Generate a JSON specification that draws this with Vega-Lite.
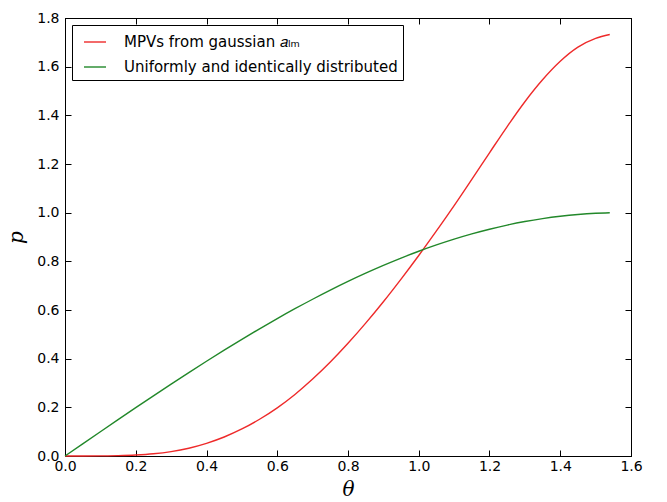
{
  "$schema": "https://vega.github.io/schema/vega-lite/v6.json",
  "width": 566,
  "height": 438,
  "autosize": {"type": "none"},
  "padding": {"left": 65, "top": 18, "right": 36, "bottom": 46},
  "background": "white",
  "config": {
    "view": {"stroke": "black", "strokeWidth": 1},
    "font": "DejaVu Sans",
    "axis": {
      "grid": false,
      "domainColor": "black",
      "domainWidth": 1,
      "tickColor": "black",
      "tickSize": -6,
      "tickWidth": 1,
      "labelColor": "black",
      "labelFont": "DejaVu Sans",
      "labelFontSize": 14,
      "labelFlush": false,
      "labelOverlap": false,
      "titleFont": "DejaVu Serif",
      "titleFontStyle": "italic",
      "titleFontWeight": "normal",
      "titleFontSize": 20,
      "titleColor": "black"
    }
  },
  "data": {
    "values": [
      {"theta": 0.0, "p": 0.0, "series": "MPVs from gaussian 𝑎ₗₘ"},
      {"theta": 0.05, "p": 0.0, "series": "MPVs from gaussian 𝑎ₗₘ"},
      {"theta": 0.1, "p": 0.0005, "series": "MPVs from gaussian 𝑎ₗₘ"},
      {"theta": 0.15, "p": 0.0015, "series": "MPVs from gaussian 𝑎ₗₘ"},
      {"theta": 0.2, "p": 0.004, "series": "MPVs from gaussian 𝑎ₗₘ"},
      {"theta": 0.25, "p": 0.009, "series": "MPVs from gaussian 𝑎ₗₘ"},
      {"theta": 0.3, "p": 0.018, "series": "MPVs from gaussian 𝑎ₗₘ"},
      {"theta": 0.35, "p": 0.032, "series": "MPVs from gaussian 𝑎ₗₘ"},
      {"theta": 0.4, "p": 0.052, "series": "MPVs from gaussian 𝑎ₗₘ"},
      {"theta": 0.45, "p": 0.078, "series": "MPVs from gaussian 𝑎ₗₘ"},
      {"theta": 0.5, "p": 0.111, "series": "MPVs from gaussian 𝑎ₗₘ"},
      {"theta": 0.55, "p": 0.151, "series": "MPVs from gaussian 𝑎ₗₘ"},
      {"theta": 0.6, "p": 0.198, "series": "MPVs from gaussian 𝑎ₗₘ"},
      {"theta": 0.65, "p": 0.253, "series": "MPVs from gaussian 𝑎ₗₘ"},
      {"theta": 0.7, "p": 0.316, "series": "MPVs from gaussian 𝑎ₗₘ"},
      {"theta": 0.75, "p": 0.386, "series": "MPVs from gaussian 𝑎ₗₘ"},
      {"theta": 0.8, "p": 0.463, "series": "MPVs from gaussian 𝑎ₗₘ"},
      {"theta": 0.85, "p": 0.546, "series": "MPVs from gaussian 𝑎ₗₘ"},
      {"theta": 0.9, "p": 0.634, "series": "MPVs from gaussian 𝑎ₗₘ"},
      {"theta": 0.95, "p": 0.727, "series": "MPVs from gaussian 𝑎ₗₘ"},
      {"theta": 1.0, "p": 0.824, "series": "MPVs from gaussian 𝑎ₗₘ"},
      {"theta": 1.05, "p": 0.925, "series": "MPVs from gaussian 𝑎ₗₘ"},
      {"theta": 1.1, "p": 1.029, "series": "MPVs from gaussian 𝑎ₗₘ"},
      {"theta": 1.15, "p": 1.137, "series": "MPVs from gaussian 𝑎ₗₘ"},
      {"theta": 1.2, "p": 1.246, "series": "MPVs from gaussian 𝑎ₗₘ"},
      {"theta": 1.25, "p": 1.354, "series": "MPVs from gaussian 𝑎ₗₘ"},
      {"theta": 1.3, "p": 1.456, "series": "MPVs from gaussian 𝑎ₗₘ"},
      {"theta": 1.35, "p": 1.546, "series": "MPVs from gaussian 𝑎ₗₘ"},
      {"theta": 1.4, "p": 1.622, "series": "MPVs from gaussian 𝑎ₗₘ"},
      {"theta": 1.45, "p": 1.68, "series": "MPVs from gaussian 𝑎ₗₘ"},
      {"theta": 1.5, "p": 1.716, "series": "MPVs from gaussian 𝑎ₗₘ"},
      {"theta": 1.54, "p": 1.732, "series": "MPVs from gaussian 𝑎ₗₘ"},
      {"theta": 0.0, "p": 0.0, "series": "Uniformly and identically distributed"},
      {"theta": 0.05, "p": 0.05, "series": "Uniformly and identically distributed"},
      {"theta": 0.1, "p": 0.0998, "series": "Uniformly and identically distributed"},
      {"theta": 0.15, "p": 0.1494, "series": "Uniformly and identically distributed"},
      {"theta": 0.2, "p": 0.1987, "series": "Uniformly and identically distributed"},
      {"theta": 0.25, "p": 0.2474, "series": "Uniformly and identically distributed"},
      {"theta": 0.3, "p": 0.2955, "series": "Uniformly and identically distributed"},
      {"theta": 0.35, "p": 0.3429, "series": "Uniformly and identically distributed"},
      {"theta": 0.4, "p": 0.3894, "series": "Uniformly and identically distributed"},
      {"theta": 0.45, "p": 0.435, "series": "Uniformly and identically distributed"},
      {"theta": 0.5, "p": 0.4794, "series": "Uniformly and identically distributed"},
      {"theta": 0.55, "p": 0.5227, "series": "Uniformly and identically distributed"},
      {"theta": 0.6, "p": 0.5646, "series": "Uniformly and identically distributed"},
      {"theta": 0.65, "p": 0.6052, "series": "Uniformly and identically distributed"},
      {"theta": 0.7, "p": 0.6442, "series": "Uniformly and identically distributed"},
      {"theta": 0.75, "p": 0.6816, "series": "Uniformly and identically distributed"},
      {"theta": 0.8, "p": 0.7174, "series": "Uniformly and identically distributed"},
      {"theta": 0.85, "p": 0.7513, "series": "Uniformly and identically distributed"},
      {"theta": 0.9, "p": 0.7833, "series": "Uniformly and identically distributed"},
      {"theta": 0.95, "p": 0.8134, "series": "Uniformly and identically distributed"},
      {"theta": 1.0, "p": 0.8415, "series": "Uniformly and identically distributed"},
      {"theta": 1.05, "p": 0.8674, "series": "Uniformly and identically distributed"},
      {"theta": 1.1, "p": 0.8912, "series": "Uniformly and identically distributed"},
      {"theta": 1.15, "p": 0.9128, "series": "Uniformly and identically distributed"},
      {"theta": 1.2, "p": 0.932, "series": "Uniformly and identically distributed"},
      {"theta": 1.25, "p": 0.949, "series": "Uniformly and identically distributed"},
      {"theta": 1.3, "p": 0.9636, "series": "Uniformly and identically distributed"},
      {"theta": 1.35, "p": 0.9757, "series": "Uniformly and identically distributed"},
      {"theta": 1.4, "p": 0.9854, "series": "Uniformly and identically distributed"},
      {"theta": 1.45, "p": 0.9927, "series": "Uniformly and identically distributed"},
      {"theta": 1.5, "p": 0.9975, "series": "Uniformly and identically distributed"},
      {"theta": 1.54, "p": 0.9995, "series": "Uniformly and identically distributed"}
    ]
  },
  "layer": [
    {
      "mark": {"type": "line", "strokeWidth": 1.4, "interpolate": "monotone"},
      "encoding": {
        "x": {
          "field": "theta", "type": "quantitative",
          "scale": {"domain": [0, 1.6], "nice": false, "zero": false},
          "axis": {
            "orient": "bottom",
            "values": [0, 0.2, 0.4, 0.6, 0.8, 1.0, 1.2, 1.4, 1.6],
            "format": ".1f",
            "title": "θ",
            "labelPadding": 9,
            "titlePadding": 6
          }
        },
        "y": {
          "field": "p", "type": "quantitative",
          "scale": {"domain": [0, 1.8], "nice": false, "zero": false},
          "axis": {
            "orient": "left",
            "values": [0, 0.2, 0.4, 0.6, 0.8, 1.0, 1.2, 1.4, 1.6, 1.8],
            "format": ".1f",
            "title": "p",
            "labelPadding": 12,
            "titlePadding": 10
          }
        },
        "color": {
          "field": "series", "type": "nominal",
          "scale": {
            "domain": ["MPVs from gaussian 𝑎ₗₘ", "Uniformly and identically distributed"],
            "range": ["#ee2a2a", "#22882a"]
          },
          "legend": {
            "title": null,
            "orient": "top-left",
            "offset": 7,
            "strokeColor": "black",
            "fillColor": "white",
            "padding": 5,
            "cornerRadius": 0,
            "symbolType": "stroke",
            "symbolSize": 484,
            "symbolStrokeWidth": 1.4,
            "symbolOffset": 6,
            "labelOffset": 17,
            "labelFont": "DejaVu Sans",
            "labelFontSize": 15,
            "labelColor": "black",
            "labelLimit": 400,
            "rowPadding": 5
          }
        }
      }
    },
    {
      "mark": {"type": "line", "opacity": 0},
      "encoding": {
        "x": {
          "field": "theta", "type": "quantitative",
          "axis": {
            "orient": "top",
            "values": [0, 0.2, 0.4, 0.6, 0.8, 1.0, 1.2, 1.4, 1.6],
            "labels": false,
            "title": null
          }
        },
        "y": {
          "field": "p", "type": "quantitative",
          "axis": {
            "orient": "right",
            "values": [0, 0.2, 0.4, 0.6, 0.8, 1.0, 1.2, 1.4, 1.6, 1.8],
            "labels": false,
            "title": null
          }
        },
        "detail": {"field": "series"}
      }
    }
  ],
  "resolve": {"axis": {"x": "independent", "y": "independent"}}
}
